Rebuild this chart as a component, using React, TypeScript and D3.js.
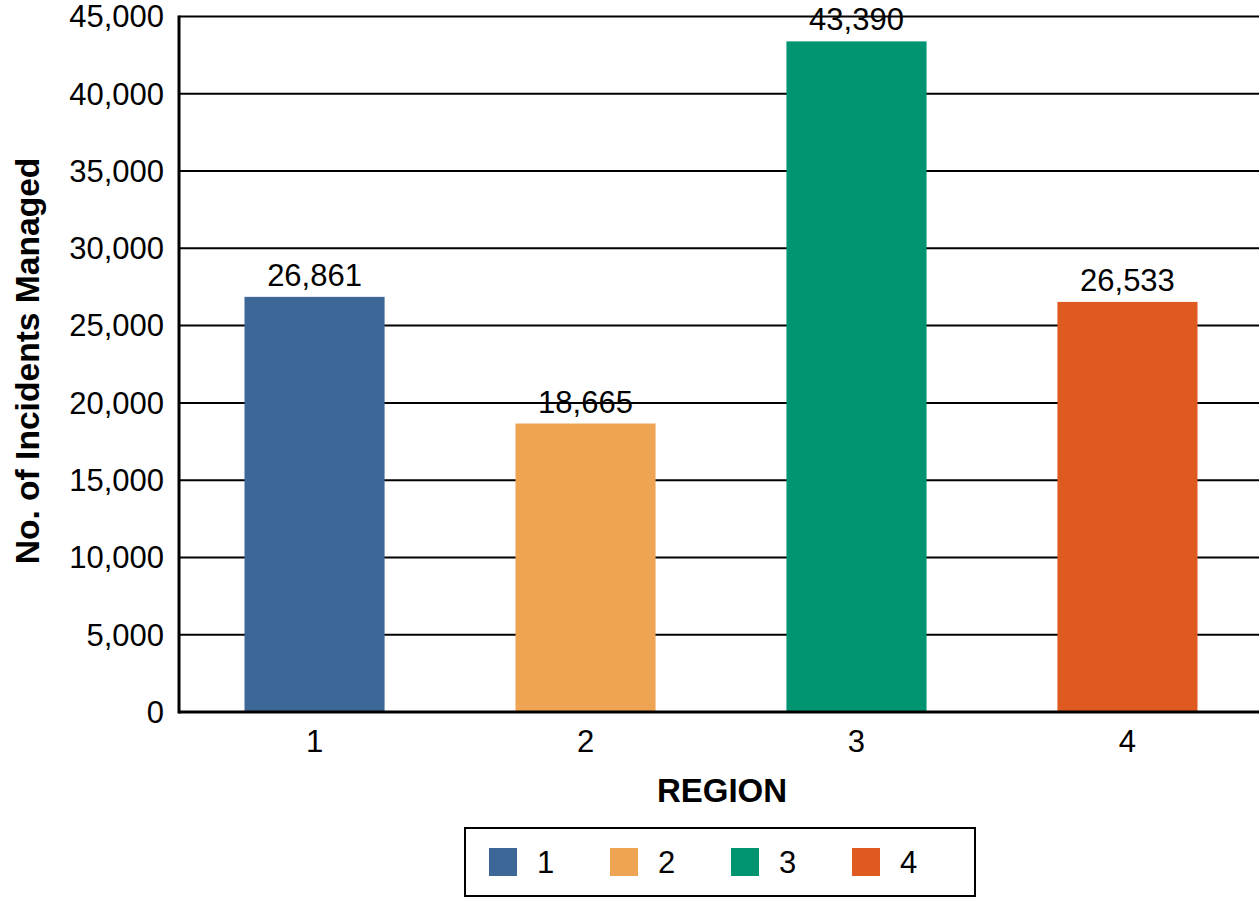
import React from "react";
import * as d3 from "d3";

const regions = ["1", "2", "3", "4"];
const incidents = [26861, 18665, 43390, 26533];
const colors = ["#3C6796", "#EFA453", "#009471", "#DE5A20"];
const yTicks = [0, 5000, 10000, 15000, 20000, 25000, 30000, 35000, 40000, 45000];

const W = 1259;
const H = 897;
const FONT = "'Liberation Sans', Arial, sans-serif";

export default function App() {
  const left = 179;
  const right = 1259;
  const top = 16.5;
  const bottom = 712;

  const x = d3.scaleBand<string>().domain(regions).range([left, 1263]).paddingInner(0.483).paddingOuter(0.2417);
  const y = d3.scaleLinear().domain([0, 45000]).range([bottom, top]);
  const fmt = d3.format(",");

  const legendX = 465;
  const legendY = 828;
  const legendW = 510;
  const legendH = 68;
  const legendStep = 121;

  return (
    <svg width={W} height={H} style={{ position: "absolute", left: 0, top: 0, background: "#fff" }} fontFamily={FONT}>
      {yTicks.map((t) => (
        <line key={"g" + t} x1={left} x2={right} y1={y(t)} y2={y(t)} stroke="#000" strokeWidth={2} />
      ))}
      {yTicks.map((t) => (
        <text key={"t" + t} x={164} y={y(t)} dy="0.35em" textAnchor="end" fontSize={31} fill="#000">
          {fmt(t)}
        </text>
      ))}
      {regions.map((r, i) => (
        <rect key={"b" + r} x={x(r)} y={y(incidents[i])} width={x.bandwidth()} height={bottom - y(incidents[i])} fill={colors[i]} />
      ))}
      {regions.map((r, i) => (
        <text key={"v" + r} x={(x(r) as number) + x.bandwidth() / 2} y={y(incidents[i]) - 11} textAnchor="middle" fontSize={31} fill="#000">
          {fmt(incidents[i])}
        </text>
      ))}
      <line x1={left} x2={left} y1={top - 1} y2={bottom + 1.5} stroke="#000" strokeWidth={3} />
      <line x1={left} x2={right} y1={bottom} y2={bottom} stroke="#000" strokeWidth={3} />
      {regions.map((r) => (
        <text key={"x" + r} x={(x(r) as number) + x.bandwidth() / 2} y={752} textAnchor="middle" fontSize={31} fill="#000">
          {r}
        </text>
      ))}
      <text x={722} y={802} textAnchor="middle" fontSize={33} fontWeight="bold" fill="#000">
        REGION
      </text>
      <text transform={`translate(39,${361}) rotate(-90)`} textAnchor="middle" fontSize={33.6} fontWeight="bold" fill="#000">
        No. of Incidents Managed
      </text>
      <rect x={legendX} y={legendY} width={legendW} height={legendH} fill="#fff" stroke="#000" strokeWidth={2} />
      {regions.map((r, i) => (
        <g key={"l" + r} transform={`translate(${489 + i * legendStep},848)`}>
          <rect x={0} y={0} width={28} height={28} fill={colors[i]} />
          <text x={48} y={25} fontSize={31} fill="#000">
            {r}
          </text>
        </g>
      ))}
    </svg>
  );
}
